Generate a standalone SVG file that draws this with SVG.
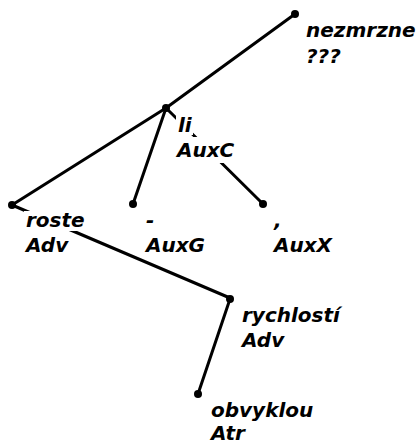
<svg xmlns="http://www.w3.org/2000/svg" width="419" height="444" viewBox="0 0 419 444">
<style>
.edge{stroke:#000;stroke-width:3;stroke-linecap:round;fill:none}
.dot{fill:#000}
.bg{fill:#fff}
text{font-family:"DejaVu Sans",sans-serif;font-weight:bold;font-style:italic;font-size:20px;fill:#000}
</style>
<rect width="419" height="444" fill="#fff"/>
<g id="connectors">
<line class="edge" x1="295" y1="14" x2="166" y2="108"/>
<line class="edge" x1="166" y1="108" x2="12" y2="205"/>
<line class="edge" x1="166" y1="108" x2="133" y2="204"/>
<line class="edge" x1="166" y1="108" x2="263" y2="204"/>
<line class="edge" x1="12" y1="205" x2="230" y2="298"/>
<line class="edge" x1="230" y1="299" x2="198" y2="394"/>
</g>
<g id="node-nezmrzne">
<circle class="dot" cx="295" cy="14" r="4"/>
<text x="306" y="37">nezmrzne</text>
<text x="306" y="63">???</text>
</g>
<g id="node-li">
<circle class="dot" cx="166" cy="108" r="4"/>
<rect class="bg" x="176" y="116" width="17" height="19"/>
<rect class="bg" x="176" y="137" width="68" height="26"/>
<text x="178" y="132">li</text>
<text x="177" y="157">AuxC</text>
</g>
<g id="node-roste">
<circle class="dot" cx="12" cy="205" r="4"/>
<rect class="bg" x="24" y="211" width="62" height="20"/>
<rect class="bg" x="24" y="234" width="50" height="22"/>
<text x="26" y="227">roste</text>
<text x="26" y="252">Adv</text>
</g>
<g id="node-dash">
<circle class="dot" cx="133" cy="204" r="4"/>
<text x="146" y="227">-</text>
<text x="146" y="252">AuxG</text>
</g>
<g id="node-comma">
<circle class="dot" cx="263" cy="204" r="4"/>
<text x="274" y="227">,</text>
<text x="274" y="252">AuxX</text>
</g>
<g id="node-rychlosti">
<circle class="dot" cx="230" cy="299" r="4"/>
<text x="242" y="322">rychlostí</text>
<text x="242" y="347">Adv</text>
</g>
<g id="node-obvyklou">
<circle class="dot" cx="198" cy="394" r="4"/>
<text x="211" y="417">obvyklou</text>
<text x="211" y="440">Atr</text>
</g>
</svg>
